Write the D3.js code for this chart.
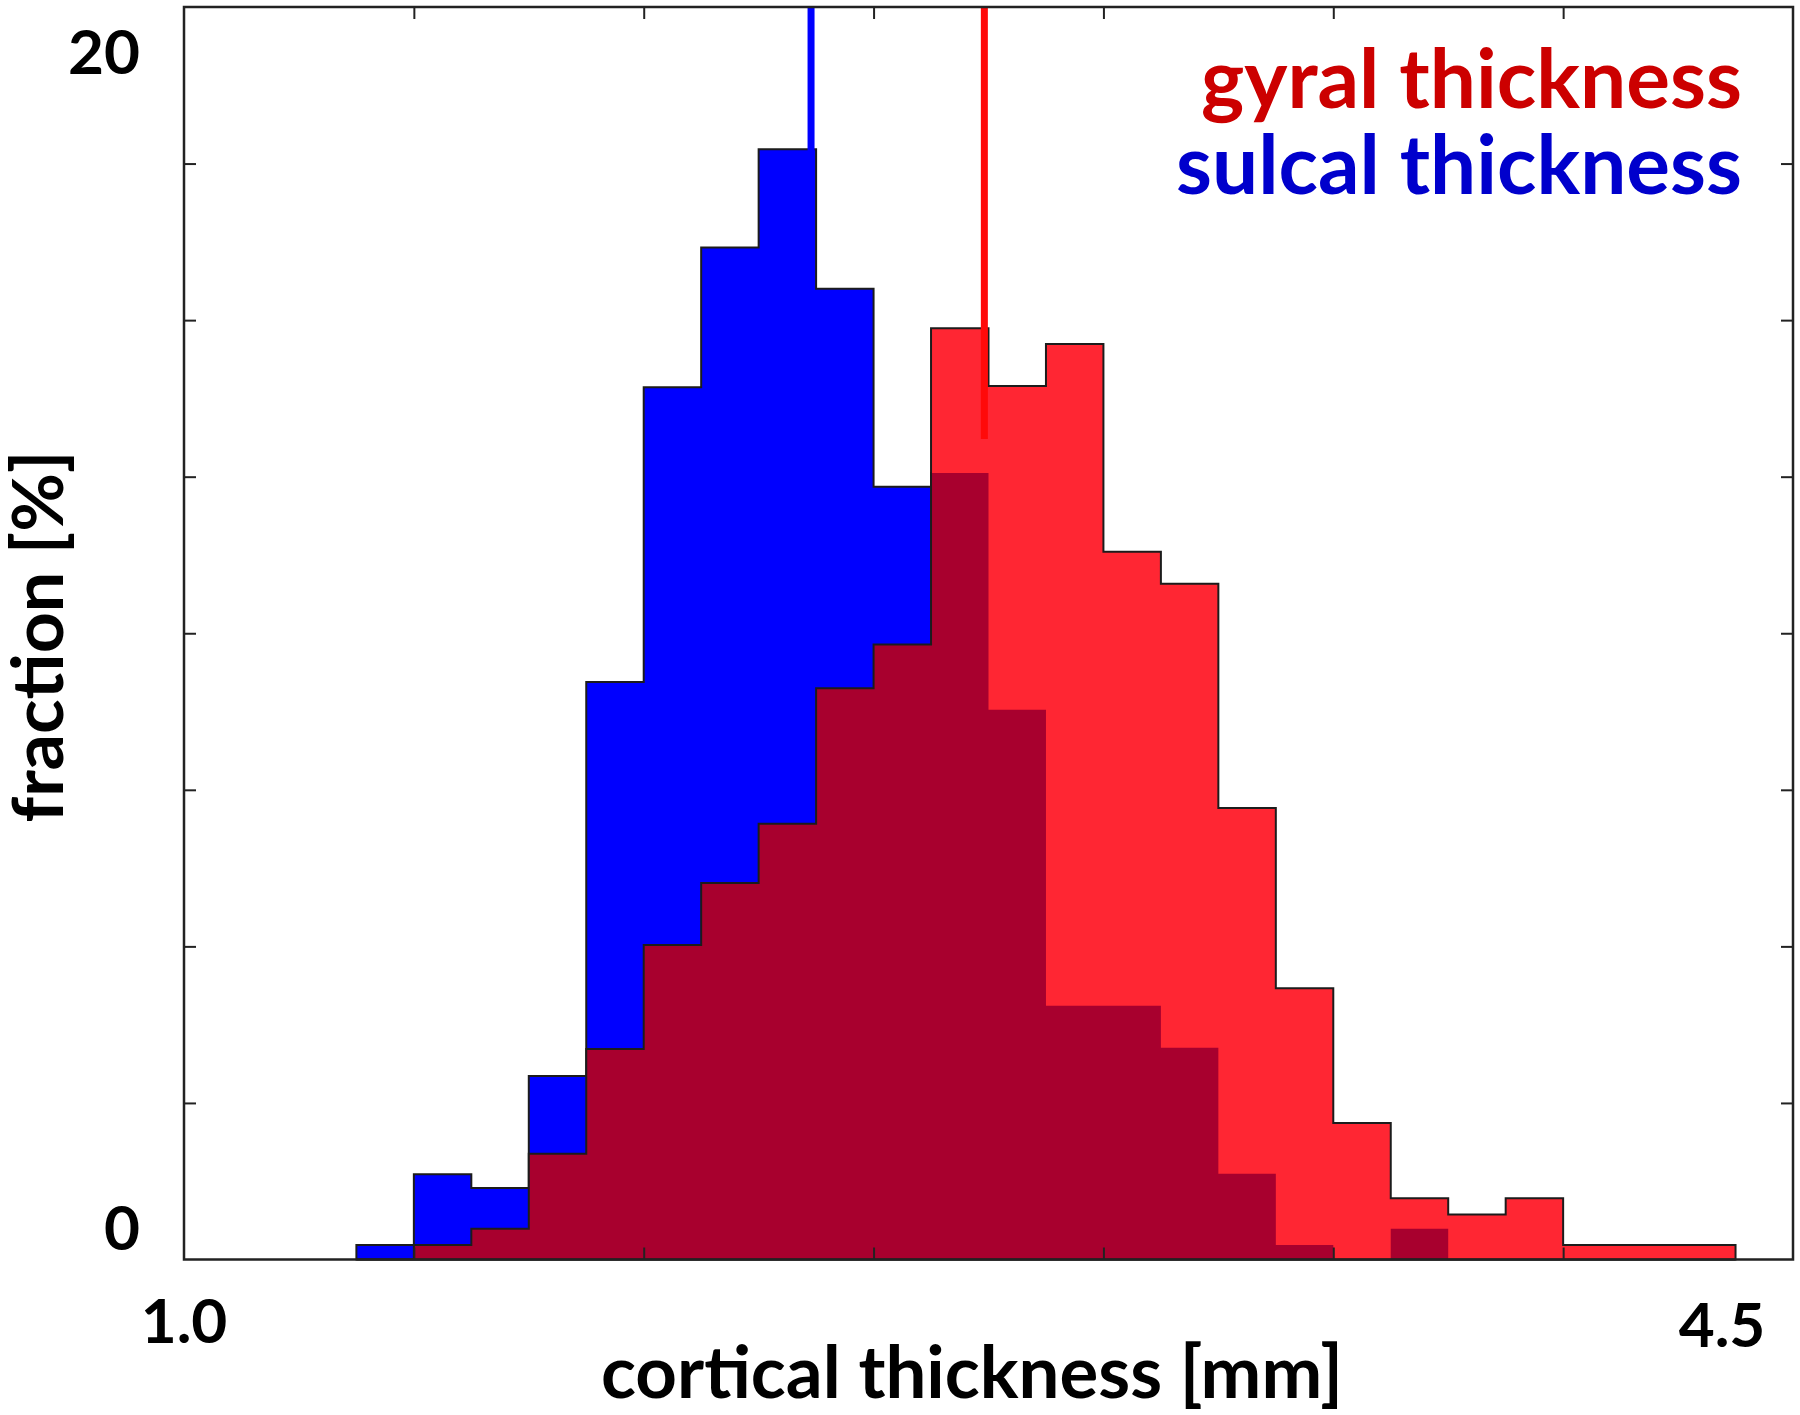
<!DOCTYPE html>
<html>
<head>
<meta charset="utf-8">
<script src="https://cdn.jsdelivr.net/npm/d3@7"></script>
<style>
  html, body { margin: 0; padding: 0; background: #ffffff; }
  svg { display: block; }
  text { font-family: Lato, "Open Sans", sans-serif; font-weight: 700; }
</style>
</head>
<body>
<svg id="chart" width="1800" height="1415"></svg>
<script>
// ---------------- data ----------------
const binLefts = [1.375, 1.5, 1.625, 1.75, 1.875, 2.0, 2.125, 2.25, 2.375, 2.5, 2.625, 2.75,
                  2.875, 3.0, 3.125, 3.25, 3.375, 3.5, 3.625, 3.75, 3.875, 4.0, 4.125, 4.25];
const binWidth = 0.125;
const sulcalValues = [0.23, 1.36, 1.14, 2.93, 9.22, 13.93, 16.16, 17.73, 15.5, 12.34, 12.56, 8.78,
                      4.05, 4.05, 3.38, 1.37, 0.23, 0, 0.49, 0, 0, 0, 0, 0];
const gyralValues  = [0, 0.23, 0.49, 1.69, 3.36, 5.02, 6.01, 6.96, 9.12, 9.82, 14.87, 13.95,
                      14.62, 11.3, 10.79, 7.21, 4.33, 2.18, 0.98, 0.72, 0.98, 0.23, 0.23, 0.23];
const sulcalMean = 2.364;
const gyralMean = 2.741;
const meanLineRange = [20, 13.1];
const xDomain = [1.0, 4.5];
const yDomain = [0, 20];
const xTickValues = [1.5, 2.0, 2.5, 3.0, 3.5, 4.0];
const yTickValues = [2.5, 5, 7.5, 10, 12.5, 15, 17.5];
const xTickLabels = [{v: 1.0, t: "1.0"}, {v: 4.5, t: "4.5"}];
const yTickLabels = [{v: 20, t: "20"}, {v: 0, t: "0"}];
const legendItems = [{t: "gyral thickness", c: "#cc0000"}, {t: "sulcal thickness", c: "#0000cc"}];
const xTitle = "cortical thickness [mm]";
const yTitle = "fraction [%]";

// ---------------- layout ----------------
const plot = {left: 184, right: 1793, top: 7, bottom: 1259.5};
const svg = d3.select("#chart");
const x = d3.scaleLinear().domain(xDomain).range([plot.left, plot.right]);
const y = d3.scaleLinear().domain(yDomain).range([plot.bottom, plot.top]);

const COL = {
  blue: "#0000ff",
  red: "#ff2633",
  dark: "#a8002e",
  redLine: "#ff0a0a",
  blueLine: "#0000ff",
  outline: "#1c1c1c",
  axis: "#222222"
};

function stepPoints(values) {
  const pts = [[binLefts[0], 0]];
  values.forEach((v, i) => {
    pts.push([binLefts[i], v]);
    pts.push([binLefts[i] + binWidth, v]);
  });
  pts.push([binLefts[binLefts.length - 1] + binWidth, 0]);
  return pts;
}
const line = d3.line().x(d => x(d[0])).y(d => y(d[1]));
const overlapValues = sulcalValues.map((v, i) => Math.min(v, gyralValues[i]));

const g = svg.append("g");
// sulcal (blue) stepfilled
g.append("path").attr("d", line(stepPoints(sulcalValues)) + "Z")
  .attr("fill", COL.blue).attr("stroke", COL.outline).attr("stroke-width", 2)
  .attr("stroke-linejoin", "miter");
// gyral (red) fill
const redPath = line(stepPoints(gyralValues)) + "Z";
g.append("path").attr("d", redPath).attr("fill", COL.red).attr("stroke", "none");
// overlap region
g.append("path").attr("d", line(stepPoints(overlapValues)) + "Z")
  .attr("fill", COL.dark).attr("stroke", "none");
// gyral outline
g.append("path").attr("d", redPath).attr("fill", "none")
  .attr("stroke", COL.outline).attr("stroke-width", 2);

// mean lines
g.append("line").attr("x1", x(sulcalMean)).attr("x2", x(sulcalMean))
  .attr("y1", y(meanLineRange[0])).attr("y2", y(meanLineRange[1]))
  .attr("stroke", COL.blueLine).attr("stroke-width", 7);
g.append("line").attr("x1", x(gyralMean)).attr("x2", x(gyralMean))
  .attr("y1", y(meanLineRange[0])).attr("y2", y(meanLineRange[1]))
  .attr("stroke", COL.redLine).attr("stroke-width", 7);

// axes ticks (inward) on all four sides
const tickLen = 12;
function styleAxis(sel) {
  sel.select(".domain").remove();
  sel.selectAll(".tick line").attr("stroke", COL.axis).attr("stroke-width", 2);
  sel.selectAll(".tick text").remove();
}
svg.append("g").attr("transform", `translate(0,${plot.bottom})`)
  .call(d3.axisBottom(x).tickValues(xTickValues).tickSize(-tickLen)).call(styleAxis);
svg.append("g").attr("transform", `translate(0,${plot.top})`)
  .call(d3.axisTop(x).tickValues(xTickValues).tickSize(-tickLen)).call(styleAxis);
svg.append("g").attr("transform", `translate(${plot.left},0)`)
  .call(d3.axisLeft(y).tickValues(yTickValues).tickSize(-tickLen)).call(styleAxis);
svg.append("g").attr("transform", `translate(${plot.right},0)`)
  .call(d3.axisRight(y).tickValues(yTickValues).tickSize(-tickLen)).call(styleAxis);

// frame
svg.append("rect").attr("x", plot.left).attr("y", plot.top)
  .attr("width", plot.right - plot.left).attr("height", plot.bottom - plot.top)
  .attr("fill", "none").attr("stroke", COL.axis).attr("stroke-width", 2.5);

// text fitting helper
function fitWidth(sel, target, base) {
  sel.attr("font-size", base);
  const w = sel.node().getBBox().width;
  const fs = base * target / w;
  sel.attr("font-size", fs);
  return fs;
}

// tick labels
const tickFont = (() => {
  const t = svg.append("text").text("20").attr("font-size", 64);
  const fs = fitWidth(t, 72, 64);
  t.remove();
  return fs;
})();
svg.selectAll(".ylab").data(yTickLabels).enter().append("text")
  .attr("class", "ylab")
  .attr("x", plot.left - 44)
  .attr("y", d => d.v === 20 ? y(d.v) + 67 : y(d.v) - 10)
  .attr("text-anchor", "end").attr("font-size", tickFont).attr("fill", "#000")
  .text(d => d.t);
svg.selectAll(".xlab").data(xTickLabels).enter().append("text")
  .attr("class", "xlab")
  .attr("x", d => d.v === 1.0 ? x(d.v) : x(d.v) - 71)
  .attr("y", d => plot.bottom + (d.v === 1.0 ? 83 : 87))
  .attr("text-anchor", "middle").attr("font-size", tickFont).attr("fill", "#000")
  .text(d => d.t);

// legend
const legendBaselines = [108, 194];
const legendWidths = [541, 566];
legendItems.forEach((d, i) => {
  const t = svg.append("text").text(d.t).attr("fill", d.c)
    .attr("text-anchor", "end").attr("x", 1742).attr("y", legendBaselines[i]);
  fitWidth(t, legendWidths[i], 80);
});

// axis titles
const xt = svg.append("text").text(xTitle).attr("fill", "#000")
  .attr("text-anchor", "middle").attr("x", 972).attr("y", 1398);
fitWidth(xt, 742, 80);

const yt = svg.append("text").text(yTitle).attr("fill", "#000")
  .attr("text-anchor", "middle")
  .attr("transform", `translate(63,${(448 + 825) / 2}) rotate(-90)`);
fitWidth(yt, 372, 80);
</script>
</body>
</html>
